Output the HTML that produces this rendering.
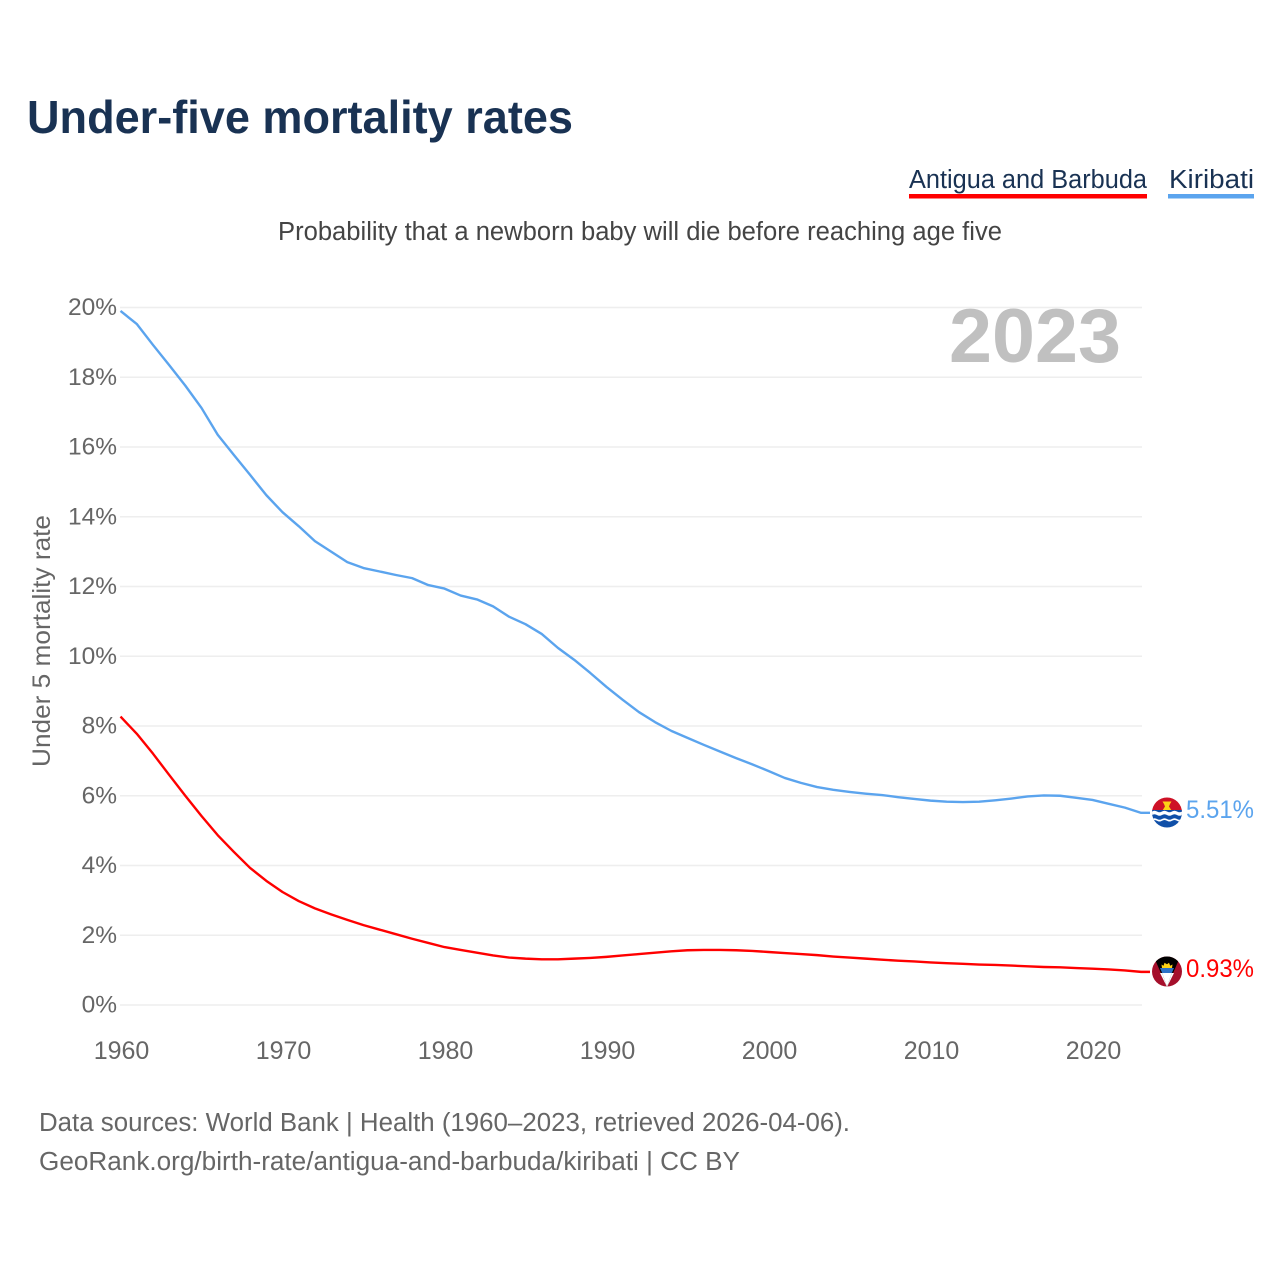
<!DOCTYPE html>
<html lang="en">
<head>
<meta charset="utf-8">
<title>Under-five mortality rates</title>
<style>
html,body{margin:0;padding:0;background:#fff;width:1280px;height:1280px;overflow:hidden}
svg{display:block}
text{font-family:"Liberation Sans",sans-serif}
</style>
</head>
<body>
<svg id="chart" width="1280" height="1280" viewBox="0 0 1280 1280" xmlns="http://www.w3.org/2000/svg">
  <defs>
    <clipPath id="clip-ki"><circle cx="1167" cy="812.500" r="15"/></clipPath>
    <clipPath id="clip-ag"><circle cx="1167" cy="971.500" r="15"/></clipPath>
  </defs>
  <text x="27" y="133" font-size="46" font-weight="700" fill="#193253" textLength="546" lengthAdjust="spacingAndGlyphs">Under-five mortality rates</text>

  <g>
    <g>
      <text x="909" y="188" font-size="25.5" fill="#193253" textLength="238" lengthAdjust="spacingAndGlyphs">Antigua and Barbuda</text>
      <rect x="909" y="194" width="238" height="4.5" fill="#ff0000"/>
    </g>
    <g>
      <text x="1169" y="188" font-size="25.5" fill="#193253" textLength="85" lengthAdjust="spacingAndGlyphs">Kiribati</text>
      <rect x="1168" y="194" width="86" height="4.5" fill="#5ba4ee"/>
    </g>
  </g>

  <text x="278" y="240" font-size="25.5" fill="#444" textLength="724" lengthAdjust="spacingAndGlyphs">Probability that a newborn baby will die before reaching age five</text>

  <g id="grid"></g>
  <g id="yticks"></g>
  <g id="xticks"></g>

  <text transform="translate(50,641) rotate(-90)" text-anchor="middle" font-size="25" fill="#666" textLength="252" lengthAdjust="spacingAndGlyphs">Under 5 mortality rate</text>

  <text x="949" y="362" font-size="76" font-weight="700" fill="#c0c0c0" textLength="172" lengthAdjust="spacingAndGlyphs">2023</text>

  <g id="series"></g>

  <g clip-path="url(#clip-ki)">
    <rect x="1152" y="797" width="30" height="16" fill="#ce1126"/>
    <path d="M1162.500 801.500h9l-1.500 2.500-1 2.500 3.500 5.500h-11l3.500-5.500-1-2.500z" fill="#fcd116"/>
    <rect x="1152" y="810" width="30" height="18" fill="#0f4fa8"/>
    <path d="M1152 811.500q2.500-1.500 5 0t5 0t5 0t5 0t5 0t5 0v3.500q-2.500 1.500-5 0t-5 0t-5 0t-5 0t-5 0t-5 0z" fill="#fff"/>
    <path d="M1152 819q2.500-1.500 5 0t5 0t5 0t5 0t5 0t5 0v1.800q-2.500 1.500-5 0t-5 0t-5 0t-5 0t-5 0t-5 0z" fill="#fff"/>
  </g>

  <g clip-path="url(#clip-ag)">
    <rect x="1152" y="956" width="30" height="31" fill="#a50f2b"/>
    <path d="M1153.500 956h27l-13.500 31z" fill="#000"/>
    <path d="M1160 968h14l-2.200 5h-9.600z" fill="#2c72c7"/>
    <path d="M1162.200 973h9.600l-4.800 14z" fill="#fff"/>
    <path d="M1160 973h2.200l4.800 14z M1174 973h-2.200l-4.800 14z" fill="#fff"/>
    <path d="M1162 968l-.5-3.500 2 1.300 1-3 2.500 1.500 2-1.500 1.200 3 2.300-1.300-.5 3.500z" fill="#fcd116"/>
  </g>

  <text x="1186" y="818" font-size="25" fill="#5ba4ee" textLength="68" lengthAdjust="spacingAndGlyphs">5.51%</text>
  <text x="1186" y="977" font-size="25" fill="#ff0000" textLength="68" lengthAdjust="spacingAndGlyphs">0.93%</text>

  <text x="39" y="1131" font-size="25.500" fill="#666" textLength="811" lengthAdjust="spacingAndGlyphs">Data sources: World Bank | Health (1960–2023, retrieved 2026-04-06).</text>
  <text x="39" y="1170" font-size="25.500" fill="#666" textLength="701" lengthAdjust="spacingAndGlyphs">GeoRank.org/birth-rate/antigua-and-barbuda/kiribati | CC BY</text>
</svg>

<script>
const startYear = 1960;
const yTickValues = [0, 2, 4, 6, 8, 10, 12, 14, 16, 18, 20];
const xTickValues = [1960, 1970, 1980, 1990, 2000, 2010, 2020];

const kiribatiValues = [
  19.90, 19.53, 18.93, 18.35, 17.76, 17.12, 16.35, 15.77, 15.20, 14.62,
  14.13, 13.73, 13.30, 13.00, 12.70, 12.53, 12.43, 12.33, 12.24, 12.04,
  11.94, 11.74, 11.63, 11.43, 11.13, 10.92, 10.64, 10.24, 9.90, 9.52,
  9.12, 8.75, 8.40, 8.11, 7.86, 7.66, 7.46, 7.27, 7.08, 6.90,
  6.71, 6.51, 6.37, 6.25, 6.17, 6.11, 6.06, 6.02, 5.96, 5.91,
  5.86, 5.83, 5.82, 5.83, 5.87, 5.92, 5.98, 6.01, 6.00, 5.94,
  5.88, 5.77, 5.66, 5.51
];

const antiguaValues = [
  8.27, 7.78, 7.21, 6.60, 6.00, 5.42, 4.87, 4.39, 3.93, 3.56,
  3.24, 2.98, 2.77, 2.60, 2.44, 2.29, 2.16, 2.03, 1.90, 1.78,
  1.66, 1.58, 1.50, 1.42, 1.36, 1.33, 1.31, 1.31, 1.33, 1.35,
  1.38, 1.42, 1.46, 1.50, 1.54, 1.57, 1.58, 1.58, 1.57, 1.55,
  1.52, 1.49, 1.46, 1.43, 1.39, 1.36, 1.33, 1.30, 1.27, 1.25,
  1.22, 1.20, 1.18, 1.16, 1.15, 1.13, 1.11, 1.09, 1.08, 1.06,
  1.04, 1.02, 0.99, 0.95
];

const SVG_NS = 'http://www.w3.org/2000/svg';
function xScale(year) { return 120.5 + (year - startYear) * 16.2; }
function yScale(value) { return 1005 - value * 34.875; }

const gridGroup = document.getElementById('grid');
const yTickGroup = document.getElementById('yticks');
const xTickGroup = document.getElementById('xticks');
const seriesGroup = document.getElementById('series');

yTickValues.forEach(function (v) {
  const line = document.createElementNS(SVG_NS, 'line');
  
  
  line.setAttribute('x1', 120);
  line.setAttribute('x2', 1142);
  line.setAttribute('y1', yScale(v));
  line.setAttribute('y2', yScale(v));
  line.setAttribute('stroke', '#eeeeee');
  line.setAttribute('stroke-width', '1.500');
  gridGroup.appendChild(line);

  const label = document.createElementNS(SVG_NS, 'text');
  
  
  label.setAttribute('x', 117);
  label.setAttribute('y', yScale(v) + 7.5);
  label.setAttribute('text-anchor', 'end');
  label.setAttribute('font-size', '24.500');
  label.setAttribute('fill', '#666');
  label.textContent = v + '%';
  yTickGroup.appendChild(label);
});

xTickValues.forEach(function (year) {
  const label = document.createElementNS(SVG_NS, 'text');
  
  
  label.setAttribute('x', xScale(year) + 1);
  label.setAttribute('y', 1059);
  label.setAttribute('text-anchor', 'middle');
  label.setAttribute('font-size', '25');
  label.setAttribute('fill', '#666');
  label.textContent = String(year);
  xTickGroup.appendChild(label);
});

function drawSeries(values, color, name) {
  const pts = values.map(function (v, i) {
    return xScale(startYear + i).toFixed(2) + ',' + yScale(v).toFixed(2);
  });
  const lastY = yScale(values[values.length - 1]);
  pts.push('1150,' + lastY.toFixed(2));
  const line = document.createElementNS(SVG_NS, 'polyline');
  
  
  line.setAttribute('points', pts.join(' '));
  line.setAttribute('fill', 'none');
  line.setAttribute('stroke', color);
  line.setAttribute('stroke-width', '2.400');
  line.setAttribute('stroke-linejoin', 'round');
  seriesGroup.appendChild(line);
}

drawSeries(kiribatiValues, '#5ba4ee', 'kiribati-line');
drawSeries(antiguaValues, '#ff0000', 'antigua-and-barbuda-line');
</script>
</body>
</html>
